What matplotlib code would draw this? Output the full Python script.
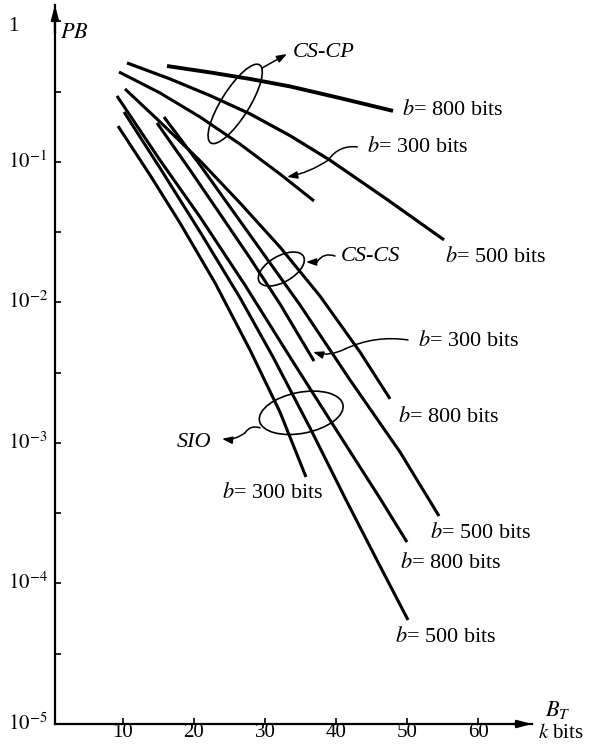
from __future__ import annotations

import matplotlib

matplotlib.use('Agg')

import matplotlib.pyplot as plt
from matplotlib.patches import Ellipse
from matplotlib.ticker import NullFormatter
from matplotlib.transforms import ScaledTranslation, blended_transform_factory


# CS-CP curves (B_T in k bits, PB)
cscp_800_x = [16.20, 22.25, 27.89, 33.52, 40.56, 48.03]
cscp_800_pb = [0.482, 0.434, 0.390, 0.345, 0.285, 0.231]
cscp_500_x = [10.56, 16.62, 22.25, 27.89, 33.52, 39.15, 46.90, 55.21]
cscp_500_pb = [0.507, 0.390, 0.297, 0.220, 0.154, 0.103, 0.0554, 0.0279]
cscp_300_x = [9.44, 15.21, 20.85, 26.48, 32.11, 36.90]
cscp_300_pb = [0.437, 0.310, 0.209, 0.134, 0.0821, 0.0528]

# CS-CS curves
cscs_300_x = [14.79, 19.44, 23.66, 27.89, 32.11, 36.90]
cscs_300_pb = [0.1895, 0.0877, 0.0427, 0.0207, 0.00976, 0.00383]
cscs_500_x = [15.77, 20.85, 27.89, 34.93, 41.97, 49.01, 54.51]
cscs_500_pb = [0.209, 0.0952, 0.0302, 0.00960, 0.00281, 8.63e-4, 3.02e-4]
cscs_800_x = [10.28, 15.21, 20.85, 26.48, 32.11, 37.75, 43.38, 47.61]
cscs_800_pb = [0.331, 0.193, 0.102, 0.0511, 0.0248, 0.0111, 0.00444, 0.00206]

# SIO curves
sio_300_x = [9.30, 13.80, 18.03, 22.96, 27.89, 32.11, 35.77]
sio_300_pb = [0.180, 0.0808, 0.0368, 0.0138, 0.00459, 0.00166, 5.73e-4]
sio_500_x = [10.14, 15.21, 20.85, 26.48, 31.13, 36.34, 41.41, 46.20, 50.14]
sio_500_pb = [0.227, 0.0906, 0.0318, 0.0108, 0.00409, 0.00128, 3.93e-4, 1.33e-4, 5.50e-5]
sio_800_x = [9.15, 15.21, 20.85, 27.18, 33.52, 39.86, 46.34, 50.00]
sio_800_pb = [0.295, 0.103, 0.0406, 0.0133, 0.00409, 0.00128, 3.93e-4, 1.97e-4]

x_ticks = [10, 20, 30, 40, 50, 60]
y_ticks = [1, 1e-1, 1e-2, 1e-3, 1e-4, 1e-5]
y_tick_labels = ['1', r'$10^{-1}$', r'$10^{-2}$', r'$10^{-3}$', r'$10^{-4}$', r'$10^{-5}$']

# curve labels: text, x, PB
curve_labels = [
    (r'$b$= 800 bits', 49.3, 0.234),
    (r'$b$= 300 bits', 44.4, 0.128),
    (r'$b$= 500 bits', 55.4, 0.0211),
    (r'$b$= 300 bits', 51.5, 0.00532),
    (r'$b$= 800 bits', 48.7, 0.00153),
    (r'$b$= 300 bits', 23.9, 4.41e-4),
    (r'$b$= 500 bits', 53.2, 2.29e-4),
    (r'$b$= 800 bits', 49.0, 1.40e-4),
    (r'$b$= 500 bits', 48.3, 4.16e-5),
]
group_labels = [
    ('CS-CP', 33.9, 0.597),
    ('CS-CS', 40.6, 0.0211),
    ('SIO', 17.6, 0.00100),
]

LABEL_SIZE = 16
TICK_SIZE = 15


def add_ellipse(fig, ax, cx, cy, width_px, height_px, angle):
    '''Draw an ellipse of fixed pixel size centred on a data point.'''
    trans = fig.dpi_scale_trans + ScaledTranslation(cx, cy, ax.transData)
    ell = Ellipse((0, 0), width_px / 100, height_px / 100, angle=angle,
                  transform=trans, fill=False, lw=1.2, color='black',
                  clip_on=False)
    ax.add_artist(ell)


def leader(ax, start, end, rad=0.0, head=False):
    '''Draw one leader segment between two data points.'''
    style = '-|>,head_length=0.5,head_width=0.18' if head else '-'
    ax.annotate('', xy=end, xytext=start,
                arrowprops=dict(arrowstyle=style, color='black', lw=1.1,
                                shrinkA=0, shrinkB=0, mutation_scale=12,
                                connectionstyle=f'arc3,rad={rad}'))


def main() -> None:
    plt.rcParams['font.family'] = ['Liberation Serif', 'DejaVu Serif']
    plt.rcParams['mathtext.fontset'] = 'stix'

    fig = plt.figure(figsize=(5.93, 7.45), dpi=100)
    ax = fig.add_axes([0.0927, 0.0282, 0.8044, 0.9651])
    ax.set_yscale('log')

    curves = [
        (cscp_800_x, cscp_800_pb, 2.8),
        (cscp_500_x, cscp_500_pb, 2.3),
        (cscp_300_x, cscp_300_pb, 2.2),
        (cscs_300_x, cscs_300_pb, 2.2),
        (cscs_500_x, cscs_500_pb, 2.2),
        (cscs_800_x, cscs_800_pb, 2.2),
        (sio_300_x, sio_300_pb, 2.2),
        (sio_500_x, sio_500_pb, 2.2),
        (sio_800_x, sio_800_pb, 2.2),
    ]
    for xs, ys, lw in curves:
        ax.plot(xs, ys, color='black', lw=lw, solid_capstyle='butt',
                solid_joinstyle='round')

    ax.set_xlim(0.42, 67.6)
    ax.set_ylim(1e-5, 1.31)

    for side in ['top', 'right']:
        ax.spines[side].set_visible(False)
    for side in ['left', 'bottom']:
        ax.spines[side].set_linewidth(1.6)

    ax.set_xticks(x_ticks)
    ax.set_xticklabels([str(t) for t in x_ticks], fontsize=TICK_SIZE)
    ax.set_yticks(y_ticks)
    ax.set_yticks([10 ** (-k - 0.5) for k in range(5)], minor=True)
    ax.yaxis.set_minor_formatter(NullFormatter())
    ax.tick_params(axis='both', which='both', direction='in', length=4,
                   width=1.2)
    ax.tick_params(axis='x', pad=-0.5)
    ax.tick_params(axis='y', labelleft=False)

    ylab_trans = blended_transform_factory(ax.transAxes, ax.transData)
    for value, label in zip(y_ticks, y_tick_labels):
        trans = ylab_trans
        if label == '1':
            # the "1" sits a little below its tick in the original
            trans = ylab_trans + ScaledTranslation(0, -0.05, fig.dpi_scale_trans)
        ax.text(-0.0985, value, label, transform=trans, ha='left',
                va='center', fontsize=TICK_SIZE)

    # axis arrows
    arrow = dict(arrowstyle='-|>,head_length=0.6,head_width=0.16',
                 color='black', lw=1.6, shrinkA=0, shrinkB=0,
                 mutation_scale=14)
    ax.annotate('', xy=(0, 1), xycoords='axes fraction', xytext=(0, 0.96),
                arrowprops=arrow)
    ax.annotate('', xy=(1, 0), xycoords='axes fraction', xytext=(0.96, 0),
                arrowprops=arrow)

    ax.text(0.011, 0.82, r'$PB$', transform=ylab_trans, ha='left',
            va='center', fontsize=LABEL_SIZE)
    xlab_trans = blended_transform_factory(ax.transData, ax.transAxes)
    ax.text(71.3, 0.020, r'$B_T$', transform=xlab_trans, ha='center',
            va='center', fontsize=LABEL_SIZE)
    ax.text(68.5, -0.013, r'$k$ bits', transform=xlab_trans, ha='left',
            va='center', fontsize=TICK_SIZE)

    for text, x, y in curve_labels:
        ax.text(x, y, text, ha='left', va='center', fontsize=LABEL_SIZE)
    for text, x, y in group_labels:
        ax.text(x, y, text, ha='left', va='center', fontsize=LABEL_SIZE,
                style='italic')

    add_ellipse(fig, ax, 25.8, 0.259, 92, 28, 58)
    add_ellipse(fig, ax, 32.3, 0.0173, 51, 26, 30)
    add_ellipse(fig, ax, 35.1, 0.00164, 85, 41, 11)

    # leaders
    leader(ax, (29.6, 0.467), (33.1, 0.587), head=True)
    leader(ax, (43.0, 0.128), (38.9, 0.103), rad=0.3)
    leader(ax, (38.9, 0.103), (33.1, 0.0782), rad=-0.1, head=True)
    leader(ax, (39.86, 0.0214), (37.32, 0.0194), rad=0.4)
    leader(ax, (37.32, 0.0194), (35.77, 0.0194), head=True)
    leader(ax, (50.14, 0.00541), (41.27, 0.00467), rad=0.15)
    leader(ax, (41.27, 0.00467), (36.76, 0.00444), rad=-0.2, head=True)
    leader(ax, (29.30, 0.00128), (27.18, 0.00118), rad=0.4)
    leader(ax, (27.18, 0.00118), (23.94, 0.00107), rad=-0.2, head=True)

    fig.savefig('out.png', dpi=100)


if __name__ == '__main__':
    main()
